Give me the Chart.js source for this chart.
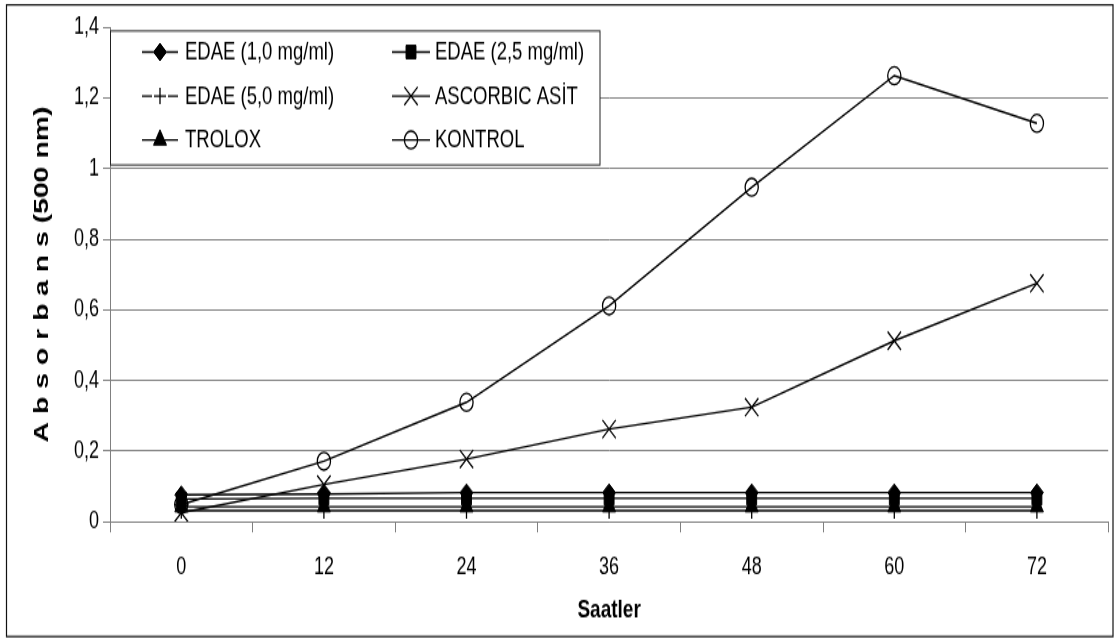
<!DOCTYPE html>
<html>
<head>
<meta charset="utf-8">
<script src="https://cdn.jsdelivr.net/npm/chart.js@4.4.1/dist/chart.umd.min.js"></script>
<style>
  html, body { margin: 0; padding: 0; background: #fff; overflow: hidden; }
  #wrap { width: 1119px; height: 643px; overflow: hidden; background: #fff; }
  /* the chart is laid out on a shorter canvas and stretched vertically */
  #c { display: block; transform: scaleY(1.35084); transform-origin: 0 0; }
</style>
</head>
<body>
<div id="wrap"><canvas id="c" width="1119" height="476"></canvas></div>
<script>
// Sampling times (hours)
const hours = ['0', '12', '24', '36', '48', '60', '72'];
const yTickLabels = ['0', '0,2', '0,4', '0,6', '0,8', '1', '1,2', '1,4'];
const seriesNames = ['EDAE (1,0 mg/ml)', 'EDAE (2,5 mg/ml)', 'EDAE (5,0 mg/ml)', 'ASCORBIC ASİT', 'TROLOX', 'KONTROL'];

// Absorbance at 500 nm
const edae10   = [0.076, 0.078, 0.082, 0.082, 0.082, 0.082, 0.082];
const edae25   = [0.064, 0.066, 0.066, 0.066, 0.066, 0.066, 0.066];
const edae50   = [0.031, 0.031, 0.031, 0.031, 0.031, 0.031, 0.031];
const ascorbic = [0.025, 0.105, 0.177, 0.262, 0.324, 0.512, 0.675];
const trolox   = [0.042, 0.042, 0.042, 0.042, 0.042, 0.042, 0.042];
const kontrol  = [0.048, 0.171, 0.338, 0.611, 0.947, 1.263, 1.128];

const FONT = "'Liberation Sans', Arial, Helvetica, sans-serif";

const seriesValues = [edae10, edae25, edae50, ascorbic, trolox, kontrol];
const markerStyles = ['rectRot', 'rect', 'cross', 'crossRot', 'triangle', 'circle'];
const markerSizes  = [6.5, 7, 6, 9.5, 7.5, 6.6];
const markerFilled = [true, true, false, false, true, false];

const datasets = seriesNames.map((name, i) => ({
  label: name,
  data: seriesValues[i],
  borderColor: '#000',
  borderWidth: 1.4,
  tension: 0,
  fill: false,
  pointStyle: markerStyles[i],
  pointRadius: markerSizes[i],
  pointHoverRadius: markerSizes[i],
  pointBackgroundColor: markerFilled[i] ? '#000' : 'rgba(0,0,0,0)',
  pointBorderColor: '#000',
  pointBorderWidth: markerFilled[i] ? 1 : 1.3,
  order: seriesNames.length - i
}));

// Legend box drawn inside the plot, two columns by three rows
const legendBox = { left: 110.5, top: 22.9, right: 600, bottom: 122.1 };
const legendRowY = [38.5, 71.1, 103.6];
const legendCols = [
  { lineFrom: 142, lineTo: 178, textX: 185 },
  { lineFrom: 392, lineTo: 430, textX: 435 }
];

const insideLegend = {
  id: 'insideLegend',
  afterDatasetsDraw(chart) {
    const ctx = chart.ctx;
    ctx.save();
    ctx.fillStyle = '#fff';
    ctx.fillRect(legendBox.left, legendBox.top, legendBox.right - legendBox.left, legendBox.bottom - legendBox.top);
    ctx.strokeStyle = '#222';
    ctx.lineWidth = 1;
    ctx.strokeRect(legendBox.left, legendBox.top, legendBox.right - legendBox.left, legendBox.bottom - legendBox.top);

    chart.data.datasets.forEach((ds, i) => {
      const col = legendCols[i % 2];
      const y = legendRowY[Math.floor(i / 2)];
      const cx = (col.lineFrom + col.lineTo) / 2;
      ctx.strokeStyle = '#000';
      ctx.lineWidth = ds.borderWidth;
      ctx.beginPath();
      if (ds.pointStyle === 'cross') {
        ctx.moveTo(col.lineFrom, y); ctx.lineTo(cx - 8, y);
        ctx.moveTo(cx + 8, y); ctx.lineTo(col.lineTo, y);
      } else {
        ctx.moveTo(col.lineFrom, y); ctx.lineTo(col.lineTo, y);
      }
      ctx.stroke();

      ctx.fillStyle = ds.pointBackgroundColor;
      ctx.strokeStyle = ds.pointBorderColor;
      ctx.lineWidth = ds.pointBorderWidth;
      Chart.helpers.drawPoint(ctx, {
        pointStyle: ds.pointStyle,
        radius: ds.pointRadius,
        rotation: 0,
        borderWidth: ds.pointBorderWidth
      }, cx, y);

      ctx.fillStyle = '#000';
      ctx.font = '18.5px ' + FONT;
      ctx.textAlign = 'left';
      ctx.textBaseline = 'middle';
      ctx.fillText(ds.label, col.textX, y + 0.5);
    });
    ctx.restore();
  },
  afterDraw(chart) {
    const ctx = chart.ctx;
    ctx.save();
    ctx.strokeStyle = '#111';
    ctx.lineWidth = 1.2;
    ctx.strokeRect(6.5, 3.6, 1106.5, 467.6);
    ctx.restore();
  }
};

new Chart(document.getElementById('c'), {
  type: 'line',
  data: { labels: hours, datasets },
  plugins: [insideLegend],
  options: {
    responsive: false,
    animation: false,
    devicePixelRatio: 1,
    events: [],
    layout: { padding: { top: 20.2, right: 10, left: 0, bottom: 0 } },
    plugins: { legend: { display: false }, tooltip: { enabled: false } },
    scales: {
      x: {
        type: 'category',
        offset: true,
        grid: { offset: true, drawOnChartArea: false, drawTicks: true, tickLength: 8, tickColor: '#808080', lineWidth: 1 },
        border: { color: '#808080', width: 1 },
        ticks: { color: '#000', font: { family: FONT, size: 18 }, padding: 15.5, maxRotation: 0, autoSkip: false },
        title: {
          display: true, text: 'Saatler', color: '#000',
          font: { family: FONT, size: 19, weight: 'bold' },
          padding: { top: 0, bottom: 12.5 }
        },
        afterFit(scale) { scale.height = 89.9; }
      },
      y: {
        min: 0,
        max: 1.4,
        grid: {
          color: (c) => (c.tick && c.tick.value > 1.39) ? 'rgba(0,0,0,0)' : '#808080',
          tickColor: '#808080', tickLength: 7, lineWidth: 1
        },
        border: { color: '#808080', width: 1 },
        ticks: {
          stepSize: 0.2, color: '#000', padding: 4,
          font: { family: FONT, size: 18 },
          callback: (v, i) => yTickLabels[i]
        },
        title: {
          display: true, text: 'A b s o r b a n s (500 nm)', color: '#000',
          font: { family: FONT, size: 21, weight: 'bold' },
          padding: { top: 29.5, bottom: 0 }
        },
        afterFit(scale) { scale.width = 110; }
      }
    }
  }
});
</script>
</body>
</html>
